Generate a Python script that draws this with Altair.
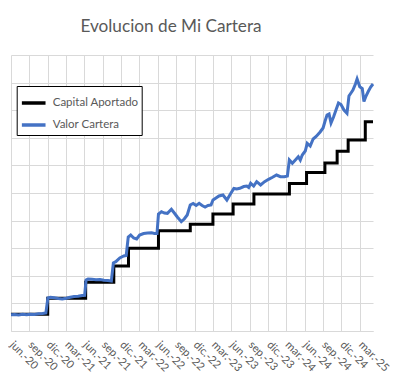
import json
import altair as alt
import pandas as pd

# Months since jun-2020 (x) and value (y) for each series
CAPITAL_MONTHS = [0.0, 6.0, 12.2, 16.8, 19.2, 24.1, 29.3, 33.0, 36.3, 39.7, 45.5, 48.3, 51.3, 53.3, 55.1, 57.9, 59.16]
CAPITAL_VALUES = [6050, 11850, 17640, 23550, 29960, 36340, 38660, 42390, 46010, 49640, 53440, 57430, 60870, 65110, 69200, 75830, 75830]

VALOR_MONTHS = [
    0.0, 0.6, 1.25, 1.9, 2.54, 3.19, 3.84, 4.49, 5.14, 5.7,
    6.03, 6.43, 7.08, 7.73, 8.38, 9.03, 9.68, 10.32, 10.97, 11.62, 12.03,
    12.27, 12.59, 13.24, 13.89, 14.54, 15.19, 15.83, 16.4,
    16.73, 17.13, 17.78, 18.43, 18.83,
    19.16, 19.56, 20.05, 20.53, 21.02, 21.67, 22.32, 22.97, 23.45, 23.86,
    24.1, 24.59, 25.07, 25.56, 26.21, 26.69, 27.18, 27.83, 28.31, 28.8,
    29.29, 29.77, 30.26, 30.75, 31.23, 31.72, 32.2, 32.69,
    33.01, 33.5, 33.99, 34.64, 35.28, 35.93, 36.42, 36.9, 37.39, 38.04, 38.53, 38.85,
    39.17, 39.66, 40.15, 40.79, 41.44, 42.09, 42.74, 43.39, 44.03, 44.68, 45.17,
    45.49, 45.98, 46.47, 46.95, 47.28, 47.6, 48.09, 48.41, 48.9, 49.38, 49.87,
    50.52, 51.0, 51.33, 51.65, 51.98, 52.3, 52.71, 53.11, 53.52, 53.93, 54.42,
    54.91, 55.23, 55.56, 55.88, 56.29, 56.56, 57.0, 57.41, 57.68, 58.02, 58.38,
    58.78, 59.16,
]
VALOR_VALUES = [
    5870, 5980, 5800, 6050, 5870, 6090, 5980, 6230, 6340, 6520,
    11960, 12210, 12030, 11770, 11590, 11850, 12210, 12500, 12570, 12860, 12930,
    18480, 18840, 18730, 18550, 18660, 18370, 18300, 18120,
    24640, 25110, 26450, 27170, 27350,
    34060, 34780, 33690, 33330, 34780, 35320, 35510, 35610, 35320, 35320,
    42390, 43220, 42750, 42640, 44090, 42750, 41300, 39600, 40580, 42030,
    45650, 46190, 45470, 46270, 45470, 44930, 45470, 45650,
    47460, 48190, 48910, 49270, 47460, 49890, 51630, 51450, 51700, 52350, 52530, 51990,
    53510, 52530, 54090, 52900, 54090, 54960, 55690, 56520, 55900, 55900, 56160,
    61950, 60760, 61950, 63150, 61950, 63770, 65210, 68000, 67030, 69560, 70470,
    72100, 73550, 76080, 78260, 78620, 75360, 77530, 80070, 82600, 82060, 80070,
    78870, 85140, 86230, 87310, 89490, 91300, 88510, 87860, 83150, 85140, 86770,
    88400, 89490,
]

SERIES = ["Capital Aportado", "Valor Cartera"]
COLORS = ["#000000", "#4472C4"]
TICK_MONTHS = list(range(0, 58, 3))
TICK_LABELS = [
    "jun.-20", "sep.-20", "dic.-20", "mar.-21", "jun.-21", "sep.-21", "dic.-21",
    "mar.-22", "jun.-22", "sep.-22", "dic.-22", "mar.-23", "jun.-23", "sep.-23",
    "dic.-23", "mar.-24", "jun.-24", "sep.-24", "dic.-24", "mar.-25",
]
Y_TICKS = list(range(0, 100001, 10000))

cap = pd.DataFrame({"mes": CAPITAL_MONTHS, "valor": CAPITAL_VALUES, "serie": SERIES[0]})
val = pd.DataFrame({"mes": VALOR_MONTHS, "valor": VALOR_VALUES, "serie": SERIES[1]})

FONT = "Lato"
GREY = "#595959"
GRID = "#d9d9d9"

label_expr = f"{json.dumps(TICK_LABELS)}[round(datum.value / 3)]"

x_enc = alt.X(
    "mes:Q",
    scale=alt.Scale(domain=[0, 59.16], nice=False, zero=False),
    axis=alt.Axis(
        title=None, values=TICK_MONTHS, labelExpr=label_expr,
        labelAngle=45, labelAlign="left", labelBaseline="middle", labelPadding=12,
        labelFont=FONT, labelFontSize=11, labelColor=GREY,
        grid=True, gridColor=GRID, gridWidth=1,
        ticks=False, domain=True, domainColor=GRID, labelOverlap=False,
    ),
)
y_enc = alt.Y(
    "valor:Q",
    scale=alt.Scale(domain=[0, 100000], nice=False),
    axis=alt.Axis(
        title=None, values=Y_TICKS, labels=False, ticks=False, domain=False,
        grid=True, gridColor=GRID, gridWidth=1,
    ),
)
color_enc = alt.Color(
    "serie:N",
    scale=alt.Scale(domain=SERIES, range=COLORS),
    legend=alt.Legend(
        title=None, orient="none", legendX=5.7, legendY=31,
        strokeColor="black", fillColor="white", padding=3,
        symbolType="stroke", symbolSize=560, symbolStrokeWidth=3.5,
        rowPadding=1, labelFont=FONT, labelFontSize=11.5, labelColor=GREY,
        labelOffset=5,
    ),
)

capital = alt.Chart(cap).mark_line(strokeWidth=3, interpolate="step-after").encode(
    x=x_enc, y=y_enc, color=color_enc
)
valor = alt.Chart(val).mark_line(strokeWidth=3).encode(
    x=x_enc, y=y_enc, color=color_enc
)

chart = alt.layer(capital, valor).properties(
    width=362,
    height=276,
    autosize=alt.AutoSizeParams(type="none"),
    padding={"left": 3, "top": 47, "right": 20, "bottom": 60},
    title=alt.TitleParams(
        "Evolucion de Mi Cartera", font=FONT, fontSize=17.2, fontWeight="normal",
        color=GREY, anchor="middle", dx=-21, offset=20,
    ),
).configure_view(stroke=None)

chart.save("out.html", embed_options={"renderer": "svg", "actions": False})
